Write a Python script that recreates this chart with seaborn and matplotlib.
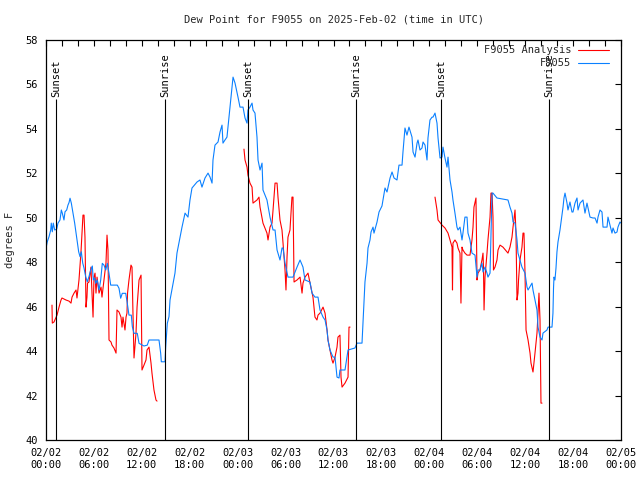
import matplotlib
matplotlib.use("Agg")
import matplotlib.pyplot as plt
import seaborn as sns
import pandas as pd
from matplotlib.ticker import MultipleLocator, FixedLocator

# ---------------- text ----------------
title = "Dew Point for F9055 on 2025-Feb-02 (time in UTC)"
y_label = "degrees F"
obs_name = "F9055"
ana_name = "F9055 Analysis"

# hours since 2025-02-02 00:00 UTC
x_tick_hours = [0, 6, 12, 18, 24, 30, 36, 42, 48, 54, 60, 66, 72]
x_tick_labels = ["02/02\n00:00", "02/02\n06:00", "02/02\n12:00", "02/02\n18:00",
                 "02/03\n00:00", "02/03\n06:00", "02/03\n12:00", "02/03\n18:00",
                 "02/04\n00:00", "02/04\n06:00", "02/04\n12:00", "02/04\n18:00",
                 "02/05\n00:00"]
y_ticks = [40, 42, 44, 46, 48, 50, 52, 54, 56, 58]

event_hours = [1.28, 14.94, 25.33, 38.87, 49.43, 62.96]
event_names = ["Sunset", "Sunrise", "Sunset", "Sunrise", "Sunset", "Sunrise"]
event_line_top = 55.33

# observed dew point (hour, degF)
obs_points = [
    (0.00, 48.63), (0.16, 48.92), (0.38, 49.15), (0.59, 49.45), (0.66, 49.76), (0.79, 49.37), (0.91, 49.76), (1.09, 49.45), (1.34, 49.49), (1.50, 49.76),
    (1.75, 49.90), (1.92, 50.35), (2.04, 50.21), (2.25, 49.90), (2.38, 50.27), (2.59, 50.35), (2.75, 50.57), (2.88, 50.68), (3.01, 50.88), (3.17, 50.66),
    (3.38, 50.21), (3.59, 49.76), (3.76, 49.31), (3.92, 48.86), (4.09, 48.47), (4.26, 48.25), (4.42, 48.47), (4.60, 47.96), (4.76, 47.74), (4.97, 47.35),
    (5.17, 47.12), (5.38, 47.35), (5.60, 47.65), (5.80, 47.83), (5.92, 47.20), (6.10, 47.29), (6.22, 47.05), (6.42, 47.20), (6.64, 46.75), (6.85, 47.20),
    (7.05, 47.95), (7.26, 47.87), (7.48, 47.65), (7.68, 47.95), (7.89, 47.50), (8.10, 46.97), (8.93, 46.97), (9.14, 46.83), (9.35, 46.38), (9.55, 46.60),
    (9.98, 46.60), (10.18, 46.15), (10.39, 45.62), (10.68, 45.62), (10.81, 45.10), (11.02, 44.80), (11.43, 44.80), (11.65, 44.35), (12.27, 44.23), (12.68, 44.27),
    (12.90, 44.50), (14.15, 44.50), (14.36, 43.90), (14.44, 43.52), (14.90, 43.52), (14.99, 44.20), (15.19, 45.25), (15.40, 45.55), (15.53, 46.30), (16.15, 47.51),
    (16.40, 48.41), (17.03, 49.58), (17.41, 50.21), (17.78, 50.03), (18.03, 50.80), (18.28, 51.34), (18.91, 51.61), (19.28, 51.70), (19.53, 51.38), (19.91, 51.79),
    (20.29, 52.01), (20.54, 51.83), (20.79, 51.56), (20.91, 52.60), (21.16, 53.27), (21.54, 53.41), (21.79, 53.86), (22.04, 54.17), (22.16, 53.36), (22.41, 53.50),
    (22.66, 53.63), (22.79, 54.08), (23.04, 54.98), (23.29, 55.88), (23.42, 56.33), (23.67, 56.06), (24.04, 55.43), (24.29, 54.98), (24.67, 54.98), (24.92, 54.49),
    (25.17, 54.26), (25.29, 54.85), (25.54, 54.98), (25.80, 55.16), (25.92, 54.85), (26.17, 54.71), (26.42, 53.63), (26.55, 52.60), (26.80, 52.15), (27.05, 52.46),
    (27.17, 51.25), (27.67, 50.80), (28.05, 50.03), (28.43, 49.45), (28.68, 49.45), (28.93, 48.55), (29.30, 48.10), (29.55, 48.64), (29.68, 48.64), (29.93, 47.96),
    (30.30, 47.33), (30.93, 47.33), (31.43, 47.78), (31.81, 48.10), (32.18, 47.78), (32.43, 47.20), (33.06, 47.11), (33.31, 46.61), (33.68, 46.43), (34.06, 46.43),
    (34.31, 45.85), (34.69, 45.53), (34.94, 45.40), (35.19, 44.95), (35.31, 44.50), (35.56, 44.05), (35.94, 43.73), (36.19, 43.73), (36.44, 42.83), (36.69, 42.79),
    (36.81, 43.15), (37.44, 43.15), (37.69, 43.73), (37.82, 44.05), (38.69, 44.14), (38.94, 44.36), (39.57, 44.36), (39.69, 45.26), (39.82, 46.30), (39.94, 47.11),
    (40.20, 47.96), (40.32, 48.64), (40.57, 49.00), (40.70, 49.36), (40.95, 49.58), (41.07, 49.31), (41.45, 49.81), (41.70, 50.26), (42.07, 50.53), (42.45, 51.34),
    (42.70, 51.16), (43.08, 51.79), (43.33, 52.06), (43.58, 51.79), (43.95, 51.70), (44.20, 52.37), (44.58, 52.37), (44.70, 52.96), (44.95, 54.04), (45.20, 53.72),
    (45.45, 54.08), (45.83, 53.63), (45.96, 52.96), (46.21, 52.73), (46.46, 53.36), (46.58, 53.50), (46.83, 53.05), (47.08, 53.14), (47.21, 53.41), (47.46, 53.27),
    (47.71, 52.60), (47.83, 53.59), (48.08, 54.40), (48.34, 54.53), (48.46, 54.53), (48.71, 54.71), (48.96, 54.26), (49.09, 53.59), (49.34, 52.69), (49.59, 52.73),
    (49.71, 53.18), (49.96, 52.69), (50.21, 52.28), (50.34, 52.73), (50.59, 51.70), (50.84, 51.16), (50.96, 50.80), (51.21, 50.21), (51.46, 49.58), (51.59, 49.45),
    (51.84, 49.58), (52.09, 49.00), (52.21, 49.31), (52.46, 50.03), (52.72, 50.03), (52.84, 49.31), (53.09, 49.00), (53.34, 48.41), (53.72, 48.32), (53.97, 47.33),
    (54.09, 47.65), (54.34, 47.65), (54.59, 47.96), (54.72, 47.56), (54.97, 47.78), (55.22, 47.51), (55.34, 47.33), (55.60, 47.51), (55.85, 51.11), (55.97, 51.11),
    (56.47, 50.89), (57.85, 50.80), (58.10, 50.48), (58.35, 50.21), (58.48, 49.81), (58.73, 49.76), (58.98, 49.00), (59.10, 48.41), (59.60, 47.78), (59.98, 47.51),
    (60.23, 46.88), (60.36, 46.75), (60.86, 47.06), (60.98, 46.75), (61.23, 46.30), (61.48, 45.85), (61.61, 45.08), (61.86, 44.63), (62.11, 44.50), (62.23, 44.81),
    (62.73, 44.95), (62.86, 45.08), (63.36, 45.08), (63.48, 45.71), (63.55, 46.84), (63.61, 47.33), (63.73, 47.20), (63.86, 47.74), (63.98, 48.46), (64.11, 48.91),
    (64.36, 49.45), (64.49, 49.81), (64.74, 50.48), (64.86, 50.89), (64.99, 51.11), (65.24, 50.66), (65.36, 50.35), (65.61, 50.71), (65.86, 50.26), (65.99, 50.26),
    (66.24, 50.66), (66.49, 50.89), (66.62, 50.35), (66.87, 50.66), (67.24, 50.80), (67.49, 50.21), (67.74, 50.66), (68.12, 50.03), (68.49, 49.99), (68.75, 49.99),
    (69.00, 49.76), (69.12, 50.03), (69.37, 50.35), (69.62, 50.26), (69.75, 49.58), (70.25, 49.58), (70.37, 50.03), (70.62, 49.67), (70.87, 49.31), (71.00, 49.54),
    (71.25, 49.31), (71.50, 49.36), (71.62, 49.58), (71.87, 49.81), (72.00, 49.76),
]

# analysis dew point, three separate segments (hour, degF)
ana_segment_1 = [
    (0.75, 46.07), (0.79, 45.26), (1.00, 45.31), (1.38, 45.62), (1.63, 45.98), (1.88, 46.30), (2.00, 46.39), (2.50, 46.30), (2.88, 46.25), (3.13, 46.16),
    (3.26, 46.43), (3.51, 46.61), (3.76, 46.75), (3.88, 46.39), (4.13, 47.20), (4.38, 48.46), (4.63, 50.12), (4.76, 50.12), (4.88, 49.13), (5.01, 45.98),
    (5.13, 46.43), (5.20, 47.06), (5.38, 47.11), (5.63, 47.78), (5.76, 46.61), (5.89, 45.53), (6.01, 47.33), (6.14, 47.51), (6.26, 46.61), (6.39, 47.33),
    (6.64, 46.61), (6.89, 46.88), (7.01, 46.43), (7.26, 47.20), (7.51, 47.96), (7.64, 49.22), (7.76, 48.55), (7.89, 44.50), (8.14, 44.41), (8.26, 44.27),
    (8.51, 44.14), (8.77, 43.91), (8.89, 45.85), (9.14, 45.76), (9.39, 45.53), (9.52, 45.08), (9.64, 45.53), (9.89, 44.95), (10.02, 45.53), (10.14, 45.71),
    (10.21, 46.61), (10.39, 47.20), (10.64, 47.87), (10.77, 47.78), (10.89, 45.71), (11.02, 43.69), (11.27, 44.81), (11.40, 45.98), (11.65, 47.20), (11.90, 47.42),
    (11.96, 45.26), (12.02, 43.15), (12.27, 43.37), (12.52, 43.60), (12.65, 44.05), (12.90, 44.18), (13.15, 43.46), (13.27, 43.01), (13.52, 42.25), (13.77, 41.80),
    (13.90, 41.75),
]
ana_segment_2 = [
    (24.79, 53.09), (24.92, 52.60), (25.17, 52.28), (25.29, 51.92), (25.54, 51.56), (25.80, 51.38), (25.92, 50.66), (26.42, 50.80), (26.67, 50.93), (26.80, 50.48),
    (27.17, 49.76), (27.67, 49.31), (27.80, 49.00), (28.05, 49.58), (28.30, 49.76), (28.43, 50.35), (28.68, 51.56), (28.93, 51.56), (29.05, 50.93), (29.30, 49.90),
    (29.55, 49.45), (29.68, 48.86), (29.93, 47.65), (30.05, 46.75), (30.18, 48.23), (30.30, 49.13), (30.55, 49.45), (30.80, 50.93), (30.93, 50.93), (30.99, 49.13),
    (31.06, 47.11), (31.43, 47.20), (31.81, 47.33), (32.06, 46.61), (32.18, 47.06), (32.43, 47.33), (32.81, 47.51), (33.06, 47.06), (33.43, 46.43), (33.68, 45.53),
    (33.93, 45.40), (34.06, 45.62), (34.31, 45.71), (34.69, 45.98), (34.94, 45.71), (35.19, 44.95), (35.31, 44.50), (35.56, 44.05), (35.81, 43.60), (35.94, 43.46),
    (36.19, 43.73), (36.44, 44.18), (36.56, 44.63), (36.81, 44.72), (36.94, 42.83), (37.07, 42.38), (37.44, 42.56), (37.82, 42.83), (37.94, 45.08), (38.07, 45.08),
]
ana_segment_3 = [
    (48.71, 50.93), (48.96, 50.35), (49.09, 49.90), (49.59, 49.67), (49.96, 49.54), (50.34, 49.31), (50.59, 49.00), (50.84, 48.68), (50.90, 46.75), (50.96, 48.86),
    (51.21, 49.00), (51.46, 48.86), (51.59, 48.64), (51.84, 48.41), (51.96, 46.16), (52.09, 48.68), (52.21, 48.55), (52.46, 48.41), (52.72, 48.32), (53.09, 48.32),
    (53.34, 49.00), (53.47, 49.58), (53.59, 50.48), (53.84, 50.89), (53.91, 49.00), (53.97, 47.20), (54.09, 47.51), (54.34, 47.65), (54.59, 48.10), (54.72, 48.41),
    (54.78, 47.78), (54.85, 45.85), (54.97, 47.33), (55.22, 48.41), (55.34, 49.00), (55.60, 50.03), (55.72, 51.11), (55.85, 51.11), (55.97, 50.03), (56.03, 47.65),
    (56.22, 47.78), (56.47, 48.10), (56.60, 48.55), (56.85, 48.77), (57.22, 48.68), (57.85, 48.41), (58.10, 48.68), (58.35, 49.13), (58.48, 49.58), (58.73, 50.35),
    (58.85, 49.31), (58.98, 46.30), (59.10, 46.61), (59.17, 47.20), (59.35, 48.10), (59.60, 48.68), (59.73, 49.31), (59.85, 49.31), (59.98, 47.51), (60.11, 44.95),
    (60.36, 44.50), (60.61, 43.91), (60.73, 43.46), (60.98, 43.06), (61.23, 43.91), (61.48, 44.81), (61.61, 45.71), (61.73, 46.61), (61.86, 45.40), (61.98, 41.66),
    (62.11, 41.66),
]

# ---------------- data frames ----------------
obs_df = pd.DataFrame(obs_points, columns=["hour", "dewpt"])
ana_frames = []
for i, seg in enumerate([ana_segment_1, ana_segment_2, ana_segment_3]):
    d = pd.DataFrame(seg, columns=["hour", "dewpt"])
    d["seg"] = i
    ana_frames.append(d)
ana_df = pd.concat(ana_frames, ignore_index=True)

# ---------------- style ----------------
sns.set_style("white")
plt.rcParams["font.family"] = ["DejaVu Sans Mono"]
fs = 7.5

fig = plt.figure(figsize=(6.4, 4.8), dpi=100)
ax = fig.add_axes([46 / 640, 40 / 480, 575 / 640, 400 / 480])

sns.lineplot(data=ana_df, x="hour", y="dewpt", units="seg", estimator=None,
             sort=False, color="#ff0000", linewidth=0.8, ax=ax, legend=False)
ana_line = ax.lines[0]
sns.lineplot(data=obs_df, x="hour", y="dewpt", estimator=None, sort=False,
             color="#0a80ff", linewidth=0.8, ax=ax, legend=False)
obs_line = ax.lines[-1]

ax.vlines(event_hours, y_ticks[0], event_line_top, colors="black", linewidth=0.8)
for h, name in zip(event_hours, event_names):
    ax.text(h, event_line_top + 0.12, name, rotation=90, ha="center", va="bottom",
            fontsize=fs, color="black")

ax.set_xlim(x_tick_hours[0], x_tick_hours[-1])
ax.set_ylim(y_ticks[0], y_ticks[-1])
ax.xaxis.set_major_locator(FixedLocator(x_tick_hours))
ax.set_xticklabels(x_tick_labels, fontsize=fs)
ax.xaxis.set_minor_locator(MultipleLocator(2))
ax.set_yticks(y_ticks)
ax.set_yticklabels([str(v) for v in y_ticks], fontsize=fs)
ax.tick_params(which="both", direction="in", length=4, width=0.8,
               top=True, right=True, colors="black")
ax.tick_params(axis="x", which="major", pad=6)
ax.tick_params(axis="y", which="major", pad=6)
ax.set_xlabel("")
ax.set_ylabel("")
for s in ax.spines.values():
    s.set_linewidth(0.9)
    s.set_color("black")

leg = ax.legend(handles=[ana_line, obs_line], labels=[ana_name, obs_name],
                loc="upper right", bbox_to_anchor=(1.0 - 7 / 575, 1.0), frameon=False,
                markerfirst=False, fontsize=fs, handlelength=3.0,
                handletextpad=0.6, labelspacing=0.3, borderaxespad=0.2,
                borderpad=0.3)
for lh in leg.get_lines():
    lh.set_linewidth(0.8)

fig.text(333.5 / 640, 1 - 19 / 480, title, ha="center", va="center", fontsize=fs)
fig.text(10 / 640, 0.5, y_label, rotation=90, ha="center", va="center", fontsize=fs)

fig.savefig("out.png", dpi=100)
